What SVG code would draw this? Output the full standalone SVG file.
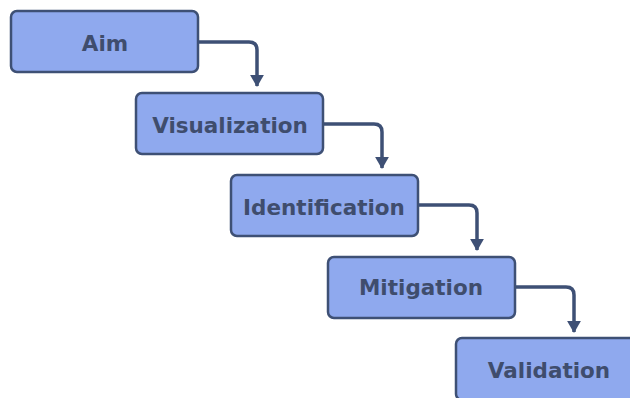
<svg xmlns="http://www.w3.org/2000/svg" width="630" height="398" viewBox="0 0 630 398">
<style>
.box{fill:#8fa9ee;stroke:#3e5075;stroke-width:2.5}
.lbl{font-family:"DejaVu Sans","Open Sans","Liberation Sans",sans-serif;font-weight:700;font-size:21.5px;fill:#3f4d6d;text-anchor:middle;dominant-baseline:central}
.con{fill:none;stroke:#3e5075;stroke-width:3.5}
</style>
<defs>
<marker id="ah" markerWidth="5" markerHeight="5" refX="3.2" refY="2.2" orient="auto" markerUnits="strokeWidth">
<path d="M0,0.2 L3.5,2.2 L0,4.2 Z" fill="#3e5075"/>
</marker>
</defs>
<rect width="630" height="398" fill="#ffffff"/>
<g id="connectors">
<path class="con" d="M198,42 H249 Q257,42 257,50 V86" marker-end="url(#ah)"/>
<path class="con" d="M324,124 H374 Q382,124 382,132 V168" marker-end="url(#ah)"/>
<path class="con" d="M419,205 H469 Q477,205 477,213 V250" marker-end="url(#ah)"/>
<path class="con" d="M516,287 H566 Q574,287 574,295 V332" marker-end="url(#ah)"/>
</g>
<g id="aim"><rect class="box" x="11" y="11" width="187" height="61" rx="6"/><text class="lbl" x="105" y="43">Aim</text></g>
<g id="visualization"><rect class="box" x="136" y="93" width="187" height="61" rx="6"/><text class="lbl" x="230" y="125">Visualization</text></g>
<g id="identification"><rect class="box" x="231" y="175" width="187" height="61" rx="6"/><text class="lbl" x="324" y="207">Identification</text></g>
<g id="mitigation"><rect class="box" x="328" y="257" width="187" height="61" rx="6"/><text class="lbl" x="421" y="287">Mitigation</text></g>
<g id="validation"><rect class="box" x="456" y="338" width="187" height="62" rx="6"/><text class="lbl" x="549" y="370">Validation</text></g>
</svg>
